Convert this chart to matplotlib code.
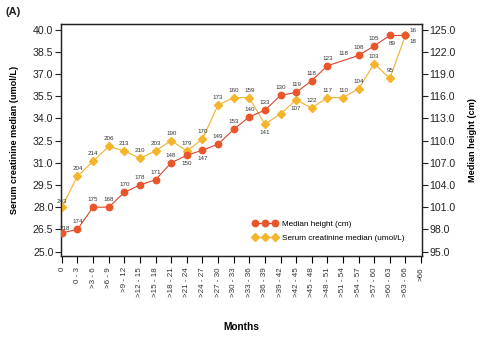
import matplotlib
matplotlib.use("Agg")
import matplotlib.pyplot as plt

plt.rcParams['font.family'] = ['Liberation Sans', 'DejaVu Sans']

# month groups
months = ['0', '0 - 3', '>3 - 6', '>6 - 9', '>9 - 12', '>12 - 15', '>15 - 18',
          '>18 - 21', '>21 - 24', '>24 - 27', '>27 - 30', '>30 - 33', '>33 - 36',
          '>36 - 39', '>39 - 42', '>42 - 45', '>45 - 48', '>48 - 51', '>51 - 54',
          '>54 - 57', '>57 - 60', '>60 - 63', '>63 - 66', '>66']

# median height (cm), right axis
height = [97.5, 98.0, 101.0, 101.0, 103.0, 104.0, 104.7, 107.0, 108.0, 108.7,
          109.5, 111.5, 113.2, 114.1, 116.1, 116.5, 118.1, 120.1, 120.8, 121.5,
          122.8, 124.2, 124.2]
height_n = ['218', '174', '175', '168', '170', '178', '171', '148', '150', '147',
            '149', '153', '140', '133', '130', '119', '118', '123', '118', '108',
            '105', '89', '16']

# serum creatinine median (umol/L), left axis
creat = [28.0, 30.1, 31.1, 32.1, 31.8, 31.3, 31.8, 32.5, 31.8, 32.6,
         34.9, 35.4, 35.4, 33.6, 34.3, 35.25, 34.7, 35.4, 35.4, 36.0,
         37.7, 36.7, 39.6]
creat_n = ['243', '204', '214', '206', '213', '210', '203', '190', '179', '170',
           '173', '160', '159', '141', '', '107', '122', '117', '110', '104',
           '103', '95', '18']

left_ticks = [25.0, 26.5, 28.0, 29.5, 31.0, 32.5, 34.0, 35.5, 37.0, 38.5, 40.0]
right_ticks = [95.0, 98.0, 101.0, 104.0, 107.0, 110.0, 113.0, 116.0, 119.0, 122.0, 125.0]

red = '#e8562a'
red_line = '#d9452c'
gold = '#f5b52a'
gold_line = '#f0b030'

fig = plt.figure(figsize=(4.81, 3.42), dpi=100)
ax = fig.add_axes([0.127, 0.2515, 0.75, 0.6785])
ax2 = ax.twinx()

x = list(range(len(months)))
xh = x[:len(height)]

ax.plot(xh, creat, color=gold_line, lw=0.8, marker='D', ms=4.2,
        mfc=gold, mec=gold, label='Serum creatinine median (umol/L)', zorder=3)
hmarks = [i for i in xh if i != 18]
ax2.plot(xh, height, color=red_line, lw=0.8, marker='o', ms=4.6,
         mfc=red, mec=red, markevery=hmarks, label='Median height (cm)', zorder=3)

# label offsets (pixels)
c_off = {0: (0, 3), 13: (0, -11), 15: (0, -11), 22: (8, -9)}
h_off = {8: (0, -11), 9: (0, -11), 21: (2, -11), 22: (8, 2), 0: (3, 2)}
for i, (v, t) in enumerate(zip(creat, creat_n)):
    if t:
        dx, dy = c_off.get(i, (0, 5))
        ax.annotate(t, (i, v), xytext=(dx, dy), textcoords='offset pixels',
                    ha='center', va='bottom', fontsize=4.5, color='#333333')
for i, (v, t) in enumerate(zip(height, height_n)):
    dx, dy = h_off.get(i, (0, 5))
    ax2.annotate(t, (i, v), xytext=(dx, dy), textcoords='offset pixels',
                 ha='center', va='bottom', fontsize=4.5, color='#333333')

ax.set_xlim(-0.05, len(months) - 1 + 0.05)
ax.set_ylim(24.7, 40.38)
ax2.set_ylim(94.4, 125.76)
ax.set_yticks(left_ticks)
ax.set_yticklabels(['%.1f' % v for v in left_ticks])
ax2.set_yticks(right_ticks)
ax2.set_yticklabels(['%.1f' % v for v in right_ticks])
ax.set_xticks(x)
ax.set_xticklabels(months, rotation=90, fontsize=5.8, color='#333333')

ax.tick_params(axis='y', labelsize=7.6, length=4, width=0.8, pad=1.5, colors='#222222')
ax2.tick_params(axis='y', labelsize=7.6, length=4, width=0.8, pad=1.5, colors='#222222')
ax.tick_params(axis='x', length=5, width=0.8, pad=3)

for a in (ax, ax2):
    for s in a.spines.values():
        s.set_linewidth(0.9)
        s.set_color('#222222')

ax.set_ylabel('Serum creatinine median (umol/L)', fontsize=6.6, fontweight='bold', labelpad=10)
ax2.set_ylabel('Median height (cm)', fontsize=6.6, fontweight='bold', labelpad=9)
ax.set_xlabel('Months', fontsize=7.3, fontweight='bold', labelpad=18)

fig.text(0.012, 0.955, '(A)', fontsize=8, fontweight='bold', color='#222222')

h1, l1 = ax2.get_legend_handles_labels()
h2, l2 = ax.get_legend_handles_labels()
ax.legend(h1 + h2, l1 + l2, loc='lower left', bbox_to_anchor=(0.51, 0.03),
          frameon=False, numpoints=3, fontsize=5.9, handlelength=3.0,
          handletextpad=0.6, labelspacing=0.7)

fig.savefig('out.png', dpi=100)
